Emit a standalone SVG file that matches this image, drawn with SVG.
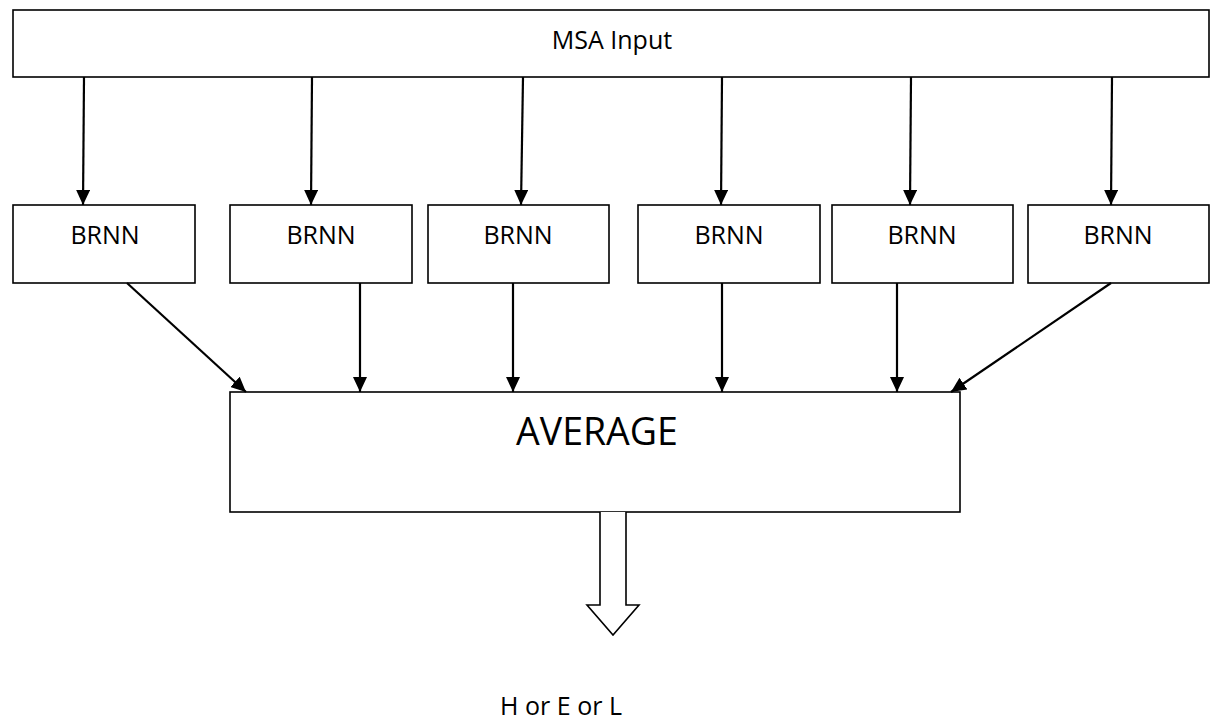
<svg xmlns="http://www.w3.org/2000/svg" width="1211" height="720" viewBox="0 0 1211 720">
  <style>
    .box { fill: #ffffff; stroke: #000000; stroke-width: 1.6; }
    .lbl { font-family: "Open Sans", "Liberation Sans", sans-serif; fill: #000000; text-anchor: middle; }
    .small { font-size: 25px; }
    .big { font-size: 37.5px; }
    .edge { stroke: #000000; stroke-width: 2.2; fill: none; marker-end: url(#head); }
  </style>
  <defs>
    <marker id="head" viewBox="0 0 15 14" refX="15" refY="7" markerWidth="15" markerHeight="14" markerUnits="userSpaceOnUse" orient="auto">
      <path d="M0,0 L15,7 L0,14 Z" fill="#000000"/>
    </marker>
  </defs>

  <rect width="1211" height="720" fill="#ffffff"/>

  <g id="msa-input">
    <rect class="box" x="13" y="10" width="1196" height="67"/>
    <text class="lbl small" x="612" y="49">MSA Input</text>
  </g>

  <g id="brnn-1">
    <rect class="box" x="13" y="205" width="182" height="78"/>
    <text class="lbl small" x="105" y="244">BRNN</text>
  </g>
  <g id="brnn-2">
    <rect class="box" x="230" y="205" width="182" height="78"/>
    <text class="lbl small" x="321" y="244">BRNN</text>
  </g>
  <g id="brnn-3">
    <rect class="box" x="428" y="205" width="181" height="78"/>
    <text class="lbl small" x="518" y="244">BRNN</text>
  </g>
  <g id="brnn-4">
    <rect class="box" x="638" y="205" width="182" height="78"/>
    <text class="lbl small" x="729" y="244">BRNN</text>
  </g>
  <g id="brnn-5">
    <rect class="box" x="832" y="205" width="181" height="78"/>
    <text class="lbl small" x="922" y="244">BRNN</text>
  </g>
  <g id="brnn-6">
    <rect class="box" x="1028" y="205" width="181" height="78"/>
    <text class="lbl small" x="1118" y="244">BRNN</text>
  </g>

  <g id="average">
    <rect class="box" x="230" y="392" width="730" height="120"/>
    <text class="lbl big" x="597" y="445">AVERAGE</text>
  </g>

  <g id="output">
    <path class="box" d="M600,512 L600,605 L587,605 L613,635 L639,605 L626,605 L626,512"/>
    <text class="lbl small" x="561" y="715">H or E or L</text>
  </g>

  <g id="connectors">
    <!-- input to each BRNN -->
    <line class="edge" x1="84" y1="77" x2="83" y2="205"/>
    <line class="edge" x1="312" y1="77" x2="311" y2="205"/>
    <line class="edge" x1="523" y1="77" x2="521" y2="205"/>
    <line class="edge" x1="722" y1="77" x2="721" y2="205"/>
    <line class="edge" x1="911" y1="77" x2="910" y2="205"/>
    <line class="edge" x1="1112" y1="77" x2="1111" y2="205"/>
    <!-- BRNN outputs into the average -->
    <line class="edge" x1="127" y1="283" x2="246" y2="392"/>
    <line class="edge" x1="360" y1="283" x2="360" y2="392"/>
    <line class="edge" x1="513" y1="283" x2="513" y2="392"/>
    <line class="edge" x1="722" y1="283" x2="722" y2="392"/>
    <line class="edge" x1="897" y1="283" x2="897" y2="392"/>
    <line class="edge" x1="1111" y1="283" x2="951" y2="392"/>
  </g>
</svg>
